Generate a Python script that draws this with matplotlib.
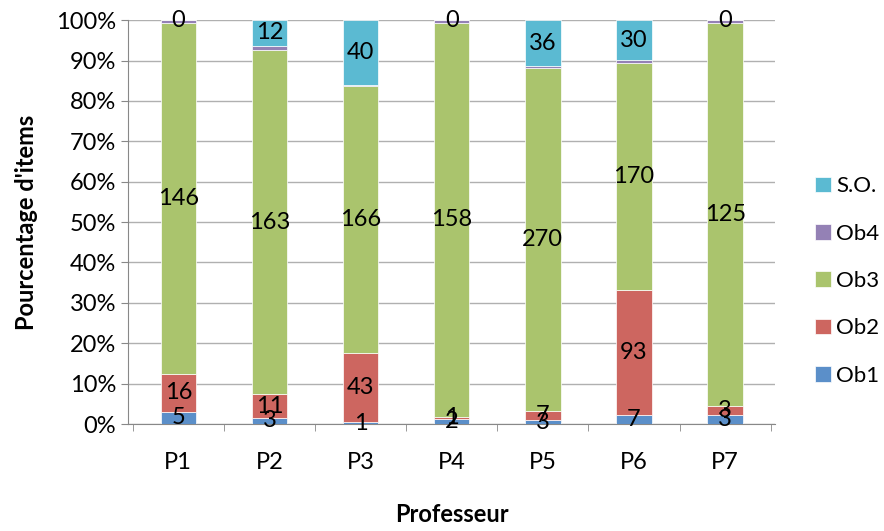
import numpy as np
import matplotlib.pyplot as plt
from matplotlib.ticker import PercentFormatter

profs = ['P1', 'P2', 'P3', 'P4', 'P5', 'P6', 'P7']
ob1 = [5, 3, 1, 2, 3, 7, 3]
ob2 = [16, 11, 43, 1, 7, 93, 3]
ob3 = [146, 163, 166, 158, 270, 170, 125]
ob4 = [1, 2, 1, 1, 2, 2, 1]
so = [0, 12, 40, 0, 36, 30, 0]

series = [('Ob1', ob1, '#5b8fc9'), ('Ob2', ob2, '#cd6660'), ('Ob3', ob3, '#aac46d'),
          ('Ob4', ob4, '#9481b5'), ('S.O.', so, '#5bbad2')]

plt.rcParams['font.family'] = ['Lato', 'DejaVu Sans']
fs = 17

fig = plt.figure(figsize=(8.84, 5.31), dpi=100)
ax = fig.add_axes([0.145, 0.2015, 0.732, 0.7605])

x = np.arange(len(profs))
total = np.sum([s[1] for s in series], axis=0).astype(float)
bottom = np.zeros(len(profs))
handles = []
for name, vals, col in series:
    pct = np.array(vals) / total * 100
    h = ax.bar(x, pct, 0.39, bottom=bottom, color=col, edgecolor='white', linewidth=0.5, label=name, zorder=3)
    handles.append(h)
    if name != 'Ob4':
        for xi, b, p, v in zip(x, bottom, pct, vals):
            ax.text(xi, b + p / 2, str(v), ha='center', va='center', fontsize=fs, zorder=4)
    bottom += pct

ax.set_ylim(0, 100)
ax.set_xlim(-0.55, 6.55)
ax.set_yticks(np.arange(0, 101, 10))
ax.yaxis.set_major_formatter(PercentFormatter(decimals=0))
ax.set_xticks(x)
ax.set_xticklabels(profs)
ax.set_xticks(np.arange(-0.5, 7, 1), minor=True)
ax.tick_params(axis='x', which='major', length=0, labelsize=fs, pad=20)
ax.tick_params(axis='x', which='minor', length=5, color='#888888')
ax.tick_params(axis='y', length=5, color='#888888', labelsize=fs)
ax.grid(axis='y', color='#b0b0b0', linewidth=1, zorder=0)
for sp in ['top', 'right']:
    ax.spines[sp].set_visible(False)
for sp in ['left', 'bottom']:
    ax.spines[sp].set_color('#888888')

ax.set_ylabel("Pourcentage d'items", fontsize=fs, fontweight='bold', labelpad=13)
ax.set_xlabel('Professeur', fontsize=fs, fontweight='bold', labelpad=22)

fig.legend(handles[::-1], [s[0] for s in series][::-1], loc='center left',
           bbox_to_anchor=(0.922, 0.471), frameon=False, fontsize=16,
           handlelength=0.7, handleheight=0.7, labelspacing=1.23, handletextpad=0.25,
           borderaxespad=0, borderpad=0)

fig.savefig('out.png', dpi=100)
